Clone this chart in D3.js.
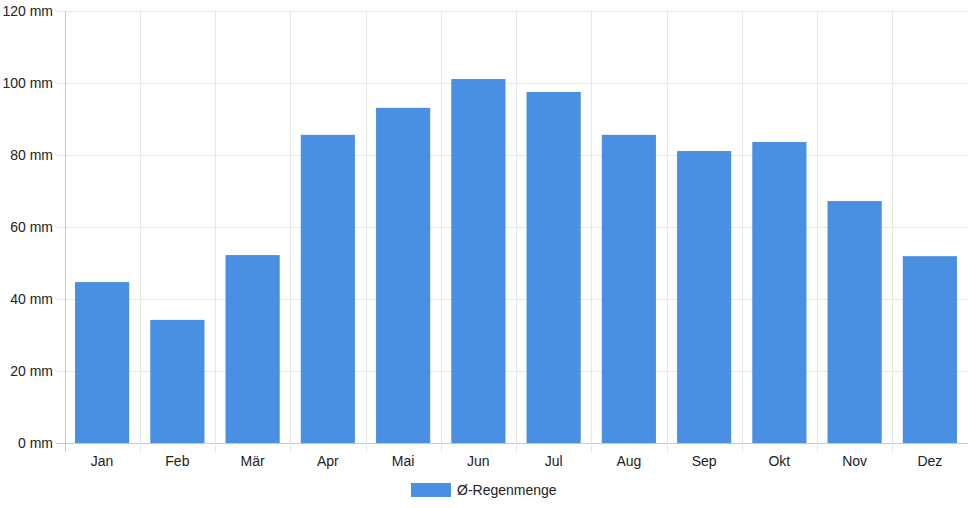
<!DOCTYPE html>
<html><head><meta charset="utf-8">
<script src="https://cdn.jsdelivr.net/npm/d3@7"></script>
<style>body{margin:0;background:#fff}svg{display:block;font-family:"Liberation Sans",Arial,Helvetica,sans-serif}</style>
</head><body>
<svg id="c" width="968" height="508"></svg>
<script>
const categories = ["Jan","Feb","Mär","Apr","Mai","Jun","Jul","Aug","Sep","Okt","Nov","Dez"];
const rainfall = [44.7, 34.2, 52.2, 85.6, 93.1, 101.1, 97.5, 85.6, 81.1, 83.6, 67.2, 51.9];
const yTicks = [0, 20, 40, 60, 80, 100, 120];
const seriesName = "Ø-Regenmenge";

(function(){
const svg = d3.select("#c");
const pL = 64.5, pR = 967.5, pT = 11, pB = 443;
const x = d3.scaleBand().domain(categories).range([pL, pR]).paddingInner(0).paddingOuter(0);
const y = d3.scaleLinear().domain([0, 120]).range([pB, pT]);

// horizontal grid
svg.append("g").selectAll("line").data(yTicks).join("line")
  .attr("x1", pL - 8).attr("x2", pR)
  .attr("y1", d => Math.round(y(d)) + 0.5).attr("y2", d => Math.round(y(d)) + 0.5)
  .attr("stroke", d => d === 0 ? "#c8c8c8" : "#e6e6e6").attr("stroke-width", 1);

// vertical grid at category boundaries
const bounds = categories.map(c => x(c)).concat([pR]);
svg.append("g").selectAll("line").data(bounds).join("line")
  .attr("x1", d => Math.round(d) + 0.5).attr("x2", d => Math.round(d) + 0.5)
  .attr("y1", pT).attr("y2", pB + 9)
  .attr("stroke", (d, i) => i === 0 ? "#c8c8c8" : "#e6e6e6").attr("stroke-width", 1);

// y labels
svg.append("g").selectAll("text").data(yTicks).join("text")
  .attr("x", 53).attr("y", d => y(d)).attr("dy", "0.35em")
  .attr("text-anchor", "end").attr("font-size", 14).attr("fill", "#222")
  .text(d => d + " mm");

// bars
const bw = x.bandwidth() * 0.72;
svg.append("g").selectAll("rect").data(rainfall).join("rect")
  .attr("x", (d, i) => x(categories[i]) + (x.bandwidth() - bw) / 2)
  .attr("y", d => y(d))
  .attr("width", bw)
  .attr("height", d => y(0) - y(d))
  .attr("fill", "#4a90e2");

// x labels
svg.append("g").selectAll("text").data(categories).join("text")
  .attr("x", d => x(d) + x.bandwidth() / 2).attr("y", 466)
  .attr("text-anchor", "middle").attr("font-size", 14).attr("fill", "#222")
  .text(d => d);

// legend
const lg = svg.append("g");
lg.append("rect").attr("x", 411).attr("y", 483).attr("width", 40).attr("height", 14).attr("fill", "#4a90e2");
lg.append("text").attr("x", 457).attr("y", 495).attr("font-size", 14).attr("fill", "#222").text(seriesName);
})();
</script>
</body></html>
